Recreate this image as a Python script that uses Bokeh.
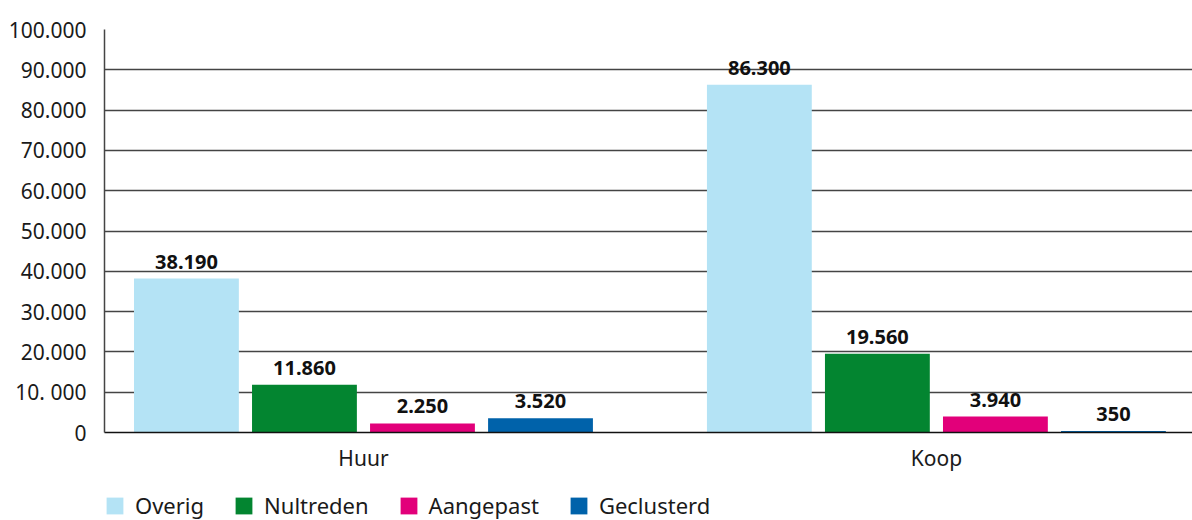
from bokeh.plotting import figure
from bokeh.layouts import column
from bokeh.models import Range1d, FixedTicker, Legend, LegendItem
from bokeh.embed import file_html
from bokeh.resources import INLINE
from bokeh.core.properties import value

groups = ["Huur", "Koop"]
series = ["Overig", "Nultreden", "Aangepast", "Geclusterd"]
colors = ["#b4e3f5", "#038530", "#e2007a", "#0062aa"]
huur = [38190, 11860, 2250, 3520]
koop = [86300, 19560, 3940, 350]
y_ticks = [0, 10000, 20000, 30000, 40000, 50000, 60000, 70000, 80000, 90000, 100000]
y_tick_labels = ["0", "10. 000", "20.000", "30.000", "40.000", "50.000",
                 "60.000", "70.000", "80.000", "90.000", "100.000"]

FONT = "Noto Sans"
group_x = [0, 1]
pitch = 0.206
bar_w = 0.183

p = figure(width=1192, height=480, output_backend="svg", toolbar_location=None,
           x_range=Range1d(-0.452, 1.447), y_range=Range1d(0, 100000),
           min_border_left=104, min_border_right=0, min_border_top=29,
           min_border_bottom=48)
p.outline_line_color = None
p.background_fill_color = "white"
p.border_fill_color = "white"

for i, (name, col) in enumerate(zip(series, colors)):
    xs = [g + (i - 1.5) * pitch for g in group_x]
    tops = [huur[i], koop[i]]
    p.vbar(x=xs, top=tops, width=bar_w, bottom=0, fill_color=col, line_color=None)
    labels = [f"{v:,}".replace(",", ".") for v in tops]
    p.text(x=xs, y=tops, text=labels, text_align="center", text_baseline="middle",
           y_offset=-17, text_font=value(FONT), text_font_style="bold",
           text_font_size="20px", text_color="#111111")

p.xgrid.visible = False
p.ygrid.ticker = FixedTicker(ticks=y_ticks)
p.ygrid.grid_line_color = "#444444"
p.ygrid.grid_line_width = 1.5

ya = p.yaxis[0]
ya.ticker = FixedTicker(ticks=y_ticks)
ya.major_label_overrides = {t: l for t, l in zip(y_ticks, y_tick_labels)}
ya.major_tick_line_color = None
ya.minor_tick_line_color = None
ya.axis_line_color = "#444444"
ya.axis_line_width = 1.5
ya.major_label_text_font = FONT
ya.major_label_text_font_size = "21px"
ya.major_label_text_color = "#1a1a1a"
ya.major_label_standoff = 12

xa = p.xaxis[0]
xa.ticker = FixedTicker(ticks=group_x)
xa.major_label_overrides = {g: l for g, l in zip(group_x, groups)}
xa.major_tick_line_color = None
xa.minor_tick_line_color = None
xa.axis_line_color = "#111111"
xa.axis_line_width = 1.5
xa.major_label_text_font = FONT
xa.major_label_text_font_size = "21px"
xa.major_label_text_color = "#1a1a1a"
xa.major_label_standoff = 5

# legend strip below the chart
lf = figure(width=1192, height=40, output_backend="svg", toolbar_location=None,
            x_range=Range1d(0, 1), y_range=Range1d(0, 1),
            x_axis_location=None, y_axis_location=None,
            min_border_left=0, min_border_right=0, min_border_top=0, min_border_bottom=0)
lf.grid.visible = False
lf.outline_line_color = None
lf.background_fill_color = "white"
lf.border_fill_color = "white"
nan = float("nan")
items = []
for name, col in zip(series, colors):
    # placeholder renderer (not drawn) that only supplies the legend swatch
    r = lf.vbar(x=[nan], top=[nan], width=0.1, fill_color=col, line_color=None)
    items.append(LegendItem(label=name, renderers=[r]))

legend = Legend(items=items, orientation="horizontal", location=(0, 0),
                glyph_width=21, glyph_height=21, label_standoff=10, spacing=29,
                padding=0, margin=0, border_line_color=None,
                background_fill_alpha=0, label_text_font=FONT,
                label_text_font_size="22px", label_text_color="#1a1a1a")
lf.add_layout(legend)

open("out.html", "w").write(file_html(column(p, lf, spacing=0), INLINE))
